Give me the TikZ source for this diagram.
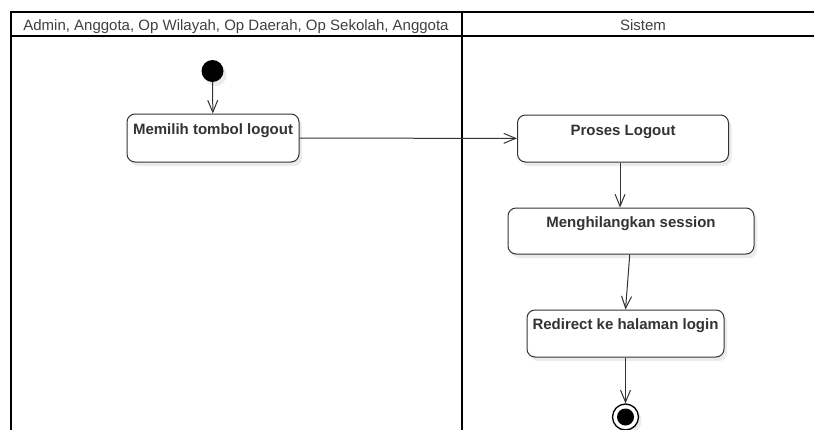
\documentclass[tikz,border=0pt]{standalone}
\usepackage{fontspec}
\setmainfont{Liberation Sans}
\usetikzlibrary{arrows.meta}
\usetikzlibrary{shadows}
\definecolor{garis}{RGB}{51,51,51}
\definecolor{teks}{RGB}{64,64,64}

\begin{document}
\begin{tikzpicture}[x=1pt, y=-1pt,
  bingkai/.style={line width=2pt, black},
  judul/.style={anchor=base, text=teks, font=\fontsize{15}{18}\selectfont},
  aktivitas/.style={draw=garis, line width=1pt, rounded corners=8pt, fill=white,
    inner sep=0pt, text=garis, font=\fontsize{15}{18}\selectfont\bfseries,
    drop shadow={shadow xshift=3pt, shadow yshift=-4pt, fill=black, opacity=0.08}},
  alur/.style={draw=garis, line width=1pt, -{Straight Barb[length=12pt, width=10pt, line width=1pt]}},
  mulai/.style={circle, fill=black, inner sep=0pt, minimum size=22pt,
    drop shadow={shadow xshift=3pt, shadow yshift=-4pt, fill=black, opacity=0.08}},
  akhir/.style={circle, draw=black, line width=1.3pt, fill=white, inner sep=0pt, minimum size=26pt,
    drop shadow={shadow xshift=3pt, shadow yshift=-4pt, fill=black, opacity=0.08}},
  akhirisi/.style={circle, fill=black, inner sep=0pt, minimum size=17pt}]

\clip (0,0) rectangle (814,429);

%---------------------------------------
% Swimlanes
%---------------------------------------
\def\kiri{11}
\def\atas{12}
\def\kepala{36}
\def\batas{461.5}

\draw[bingkai] (\kiri,\atas) rectangle (840,450);
\draw[bingkai] (\kiri,\kepala) -- (840,\kepala);
\draw[bingkai] (\batas,\atas) -- (\batas,450);

\node[judul] (lajuraktor) at (236,30.5) {Admin, Anggota, Op Wilayah, Op Daerah, Op Sekolah, Anggota};
\node[judul] (lajursistem) at (643,30.5) {Sistem};

%---------------------------------------
% Aktor
%---------------------------------------
\node[mulai] (mulai) at (212.5,71) {};
\node[aktivitas, minimum width=172pt, text height=20pt, text depth=28pt]
      (pilih) at (213,138) {Memilih tombol logout};

%---------------------------------------
% Sistem
%---------------------------------------
\node[aktivitas, minimum width=211pt, text height=20pt, text depth=27pt]
      (proses) at (623,138.5) {Proses Logout};
\node[aktivitas, minimum width=246pt, text height=19pt, text depth=27pt]
      (hapus) at (631,231) {Menghilangkan session};
\node[aktivitas, minimum width=197pt, text height=19pt, text depth=28pt]
      (redirect) at (625.5,333.5) {Redirect ke halaman login};

\node[akhir] (akhir) at (625.5,417) {};
\node[akhirisi] (akhirisi) at (akhir) {};

% Alur
\draw[alur] (mulai) -- (pilih);
\draw[alur] (pilih) -- (proses);
\draw[alur] (proses.-97) -- (proses.-97 |- hapus.north);
\draw[alur] (hapus.-93) -- (redirect.north);
\draw[alur] (redirect) -- (akhir);

\end{tikzpicture}
\end{document}
